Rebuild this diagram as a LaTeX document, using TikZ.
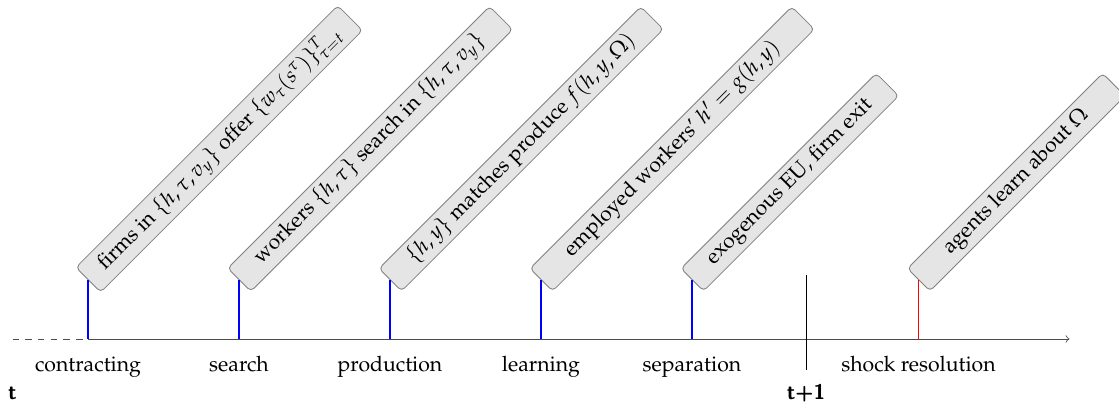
\documentclass[tikz,border=0pt]{standalone}
\usepackage[T1]{fontenc}
\usepackage{amsmath}
\usepackage{mathpazo}
\usepackage{tikz}

\newcommand{\periodfont}{\fontencoding{TU}\fontfamily{lmss}\bfseries\selectfont}

\tikzset{
  event/.style={draw=black!50, fill=black!10, rounded corners=2pt, rotate=45,
    anchor=west, minimum height=15pt, inner sep=2pt},
  tick/.style={line width=0.5pt},
  phase/.style={anchor=base},
  period/.style={anchor=base, font=\periodfont},
}

\begin{document}
\begin{tikzpicture}[x=2.5cm, y=2.5cm]
    \useasboundingbox (-0.583,-0.444) rectangle (6.828,2.245);
    % Height of the event ticks and length of the long and short boxes
    \def\h{0.39}
    \def\wlong{6.13cm}
    \def\wshort{4.57cm}

    % Time axis: dashed lead-in, then the period t to t+1.
    \coordinate (start) at (-0.5,0);
    \coordinate (O) at (0,0);
    \coordinate (end) at (6.5,0);
    \draw[dashed, black!70] (start) -- (O);
    \draw[->, black!70] (O) -- (end);

    % Points on the axis where the events happen.
    \coordinate (c1) at (0,0);
    \coordinate (c2) at (1,0);
    \coordinate (c3) at (2,0);
    \coordinate (c4) at (3,0);
    \coordinate (c5) at (4,0);
    \coordinate (c6) at (5.5,0);

    % Event boxes, tilted, resting on top of their ticks.
    \node[event, minimum width=\wlong] (offer) at (0,\h)
        {firms in $\{h,\tau,v_y\}$ offer $\{w_\tau(s^\tau)\}_{\tau=t}^T$};
    \node[event, minimum width=\wlong] (search) at (1,\h)
        {workers $\{h,\tau\}$ search in $\{h,\tau,v_y\}$};
    \node[event, minimum width=\wlong] (produce) at (2,\h)
        {$\{h,y\}$ matches produce $f(h,y,\Omega)$};
    \node[event, minimum width=\wlong] (learn) at (3,\h)
        {employed workers' $h'=g(h,y)$};
    \node[event, minimum width=\wshort] (exit) at (4,\h)
        {exogenous EU, firm exit};
    \node[event, minimum width=\wshort] (shock) at (5.5,\h)
        {agents learn about $\Omega$};

    % Ticks: blue within the period, red for the shock.
    \draw[tick, blue] (c1) -- (offer.west);
    \draw[tick, blue] (c2) -- (search.west);
    \draw[tick, blue] (c3) -- (produce.west);
    \draw[tick, blue] (c4) -- (learn.west);
    \draw[tick, blue] (c5) -- (exit.west);
    \draw[tick, red] (c6) -- (shock.west);

    % Start of the next period.
    \coordinate (nexttop) at (4.755,0.424);
    \coordinate (nextbot) at (4.755,-0.205);
    \draw (nexttop) -- (nextbot);

    % Stage names under the axis.
    \node[phase] (lcontract) at (0,-0.2185) {contracting};
    \node[phase] (lsearch) at (1,-0.2185) {search};
    \node[phase] (lproduce) at (2,-0.2185) {production};
    \node[phase] (llearn) at (3,-0.2185) {learning};
    \node[phase] (lseparate) at (4,-0.2185) {separation};
    \node[phase] (lshock) at (5.5,-0.2185) {shock resolution};

    % Period labels.
    \node[period] (pt) at (-0.5,-0.404) {t};
    \node[period] (ptnext) at (4.755,-0.404) {t+1};
\end{tikzpicture}
\end{document}
